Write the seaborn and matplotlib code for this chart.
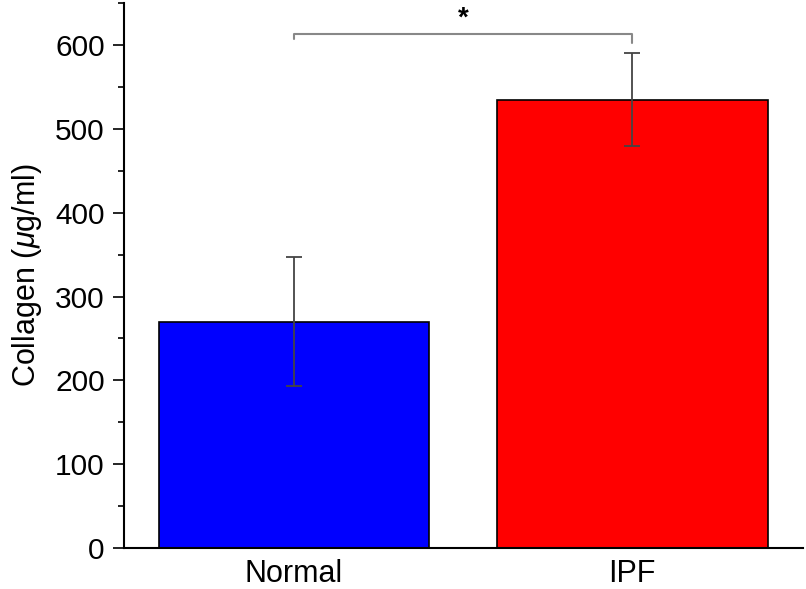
import matplotlib
matplotlib.use("Agg")
import matplotlib.pyplot as plt
import seaborn as sns
from matplotlib.ticker import MultipleLocator

# --- DATA ---
groups = ["Normal", "IPF"]
means = [270, 535]
errors = [77, 55]
bar_colors = ["#0000ff", "#ff0000"]
bracket_y = 613
bracket_drops = [6, 10]
star_y = 631

sns.set_style("ticks")
plt.rcParams['font.family'] = ['Liberation Sans', 'DejaVu Sans']
plt.rcParams['mathtext.fontset'] = 'custom'
plt.rcParams['mathtext.it'] = 'Liberation Sans:italic'
plt.rcParams['mathtext.rm'] = 'Liberation Sans'
for k in ['text.color', 'axes.labelcolor', 'xtick.color', 'ytick.color']:
    plt.rcParams[k] = 'black'

fig = plt.figure(figsize=(8.06, 5.89), dpi=100)
ax = fig.add_axes([0.154, 0.0696, 0.842, 0.925])

sns.barplot(x=groups, y=means, hue=groups, palette=bar_colors, legend=False,
            width=0.8, edgecolor="black", linewidth=1.2, saturation=1, ax=ax)
ax.errorbar(range(len(groups)), means, yerr=errors, fmt="none",
            ecolor="#444444", elinewidth=1.3, capsize=6, capthick=1.3, zorder=5)

# significance bracket
ax.plot([0, 0, 1, 1],
        [bracket_y - bracket_drops[0], bracket_y, bracket_y, bracket_y - bracket_drops[1]],
        color="#888888", lw=1.5, clip_on=False)
ax.text(0.5, star_y, "*", ha="center", va="center", fontsize=20, fontweight="bold")

ax.set_xlim(-0.502, 1.504)
ax.set_ylim(0, 650)
ax.yaxis.set_major_locator(MultipleLocator(100))
ax.yaxis.set_minor_locator(MultipleLocator(50))
ax.set_ylabel(r"Collagen ($\mu$g/ml)", fontsize=22, labelpad=8)
ax.set_xlabel("")

sns.despine(ax=ax)
for s in ["left", "bottom"]:
    ax.spines[s].set_linewidth(1.5)
    ax.spines[s].set_color("black")
ax.tick_params(axis="y", which="major", length=8, width=1.2, labelsize=21.5, pad=6, direction="out")
ax.tick_params(axis="y", which="minor", length=4, width=1.2, direction="out")
ax.tick_params(axis="x", length=0, labelsize=22, pad=8)

fig.savefig("out.png", dpi=100)
